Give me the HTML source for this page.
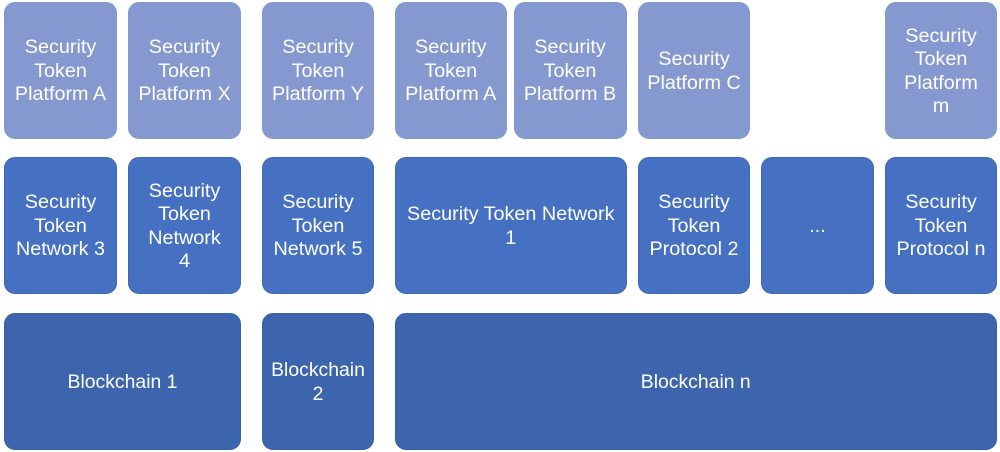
<!DOCTYPE html>
<html>
<head>
<meta charset="utf-8">
<style>
html,body{margin:0;padding:0;background:#fff}
body{width:1000px;height:452px;position:relative;overflow:hidden;font-family:"Liberation Sans",sans-serif}
.b{position:absolute;box-sizing:border-box;display:flex;align-items:center;justify-content:center;text-align:center;color:#fff;font-size:19.8px;line-height:23.5px;border-radius:11px;border:1px solid;padding:2px 0 0 0}
.p{top:2px;height:137px;background:#8599d0;border-color:#7f9ad2}
.n{top:157px;height:137px;background:#4671c2;border-color:#3f68b4}
.c{top:313px;height:137px;background:#3c65ae;border-color:#3560ac;font-size:19.4px}
</style>
</head>
<body>
<div class="b p" style="left:4px;width:113px">Security<br>Token<br>Platform A</div>
<div class="b p" style="left:128px;width:113px">Security<br>Token<br>Platform X</div>
<div class="b p" style="left:262px;width:112px">Security<br>Token<br>Platform Y</div>
<div class="b p" style="left:394.5px;width:112.5px">Security<br>Token<br>Platform A</div>
<div class="b p" style="left:513.5px;width:113px">Security<br>Token<br>Platform B</div>
<div class="b p" style="left:638px;width:112px">Security<br>Platform C</div>
<div class="b p" style="left:885px;width:112px">Security<br>Token<br>Platform<br>m</div>

<div class="b n" style="left:4px;width:113px">Security<br>Token<br>Network 3</div>
<div class="b n" style="left:128px;width:113px">Security<br>Token<br>Network<br>4</div>
<div class="b n" style="left:262px;width:112px">Security<br>Token<br>Network 5</div>
<div class="b n" style="left:394.5px;width:232.5px">Security Token Network<br>1</div>
<div class="b n" style="left:638px;width:112px">Security<br>Token<br>Protocol 2</div>
<div class="b n" style="left:761px;width:113px">...</div>
<div class="b n" style="left:885px;width:112px">Security<br>Token<br>Protocol n</div>

<div class="b c" style="left:4px;width:237px">Blockchain 1</div>
<div class="b c" style="left:262px;width:112px">Blockchain<br>2</div>
<div class="b c" style="left:394.5px;width:602.5px">Blockchain n</div>
</body>
</html>
